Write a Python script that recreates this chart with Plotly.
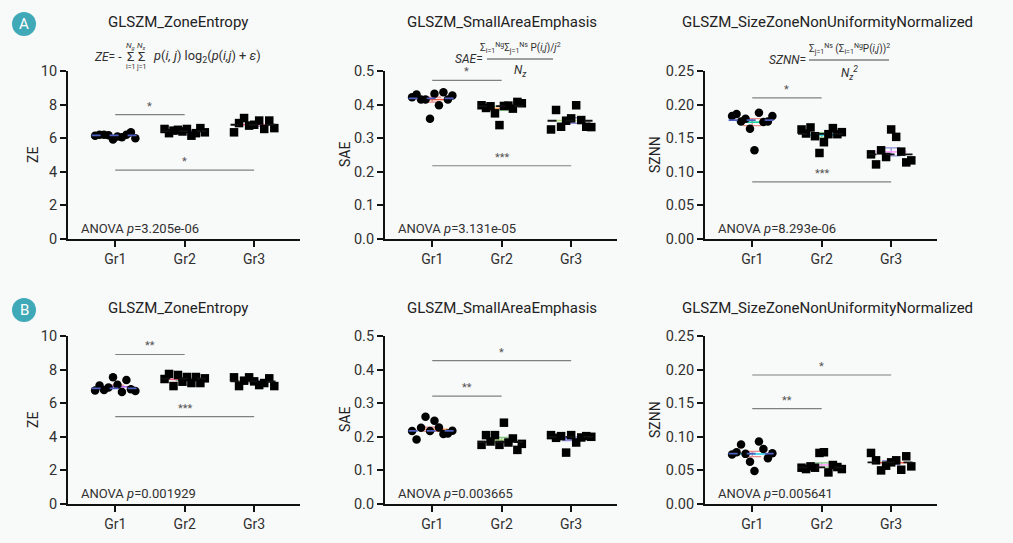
import numpy as np
import plotly.graph_objects as go

groups = ["Gr1", "Gr2", "Gr3"]

# ---- Row A values (listed left-to-right within each group) ----
a_ze_gr1 = [6.15, 6.20, 6.20, 6.18, 5.92, 6.10, 6.05, 6.20, 6.35, 6.00]
a_ze_gr2 = [6.55, 6.30, 6.45, 6.50, 6.40, 6.55, 6.15, 6.30, 6.60, 6.35]
a_ze_gr3 = [6.35, 6.90, 7.20, 6.75, 6.80, 7.05, 6.55, 7.05, 6.60]

a_sae_gr1 = [0.422, 0.430, 0.415, 0.415, 0.358, 0.432, 0.398, 0.437, 0.415, 0.427]
a_sae_gr2 = [0.398, 0.390, 0.395, 0.374, 0.339, 0.396, 0.397, 0.388, 0.408, 0.404]
a_sae_gr3 = [0.326, 0.384, 0.334, 0.352, 0.359, 0.398, 0.354, 0.334, 0.333]

a_sznn_gr1 = [0.183, 0.186, 0.175, 0.179, 0.164, 0.132, 0.188, 0.174, 0.175, 0.183]
a_sznn_gr2 = [0.163, 0.157, 0.166, 0.153, 0.128, 0.144, 0.156, 0.165, 0.156, 0.159]
a_sznn_gr3 = [0.126, 0.111, 0.132, 0.122, 0.163, 0.152, 0.130, 0.114, 0.117]

# ---- Row B values ----
b_ze_gr1 = [6.75, 7.06, 6.79, 6.94, 7.54, 7.10, 6.67, 7.38, 6.83, 6.73]
b_ze_gr2 = [7.44, 7.74, 7.02, 7.68, 7.28, 7.56, 7.20, 7.56, 7.20, 7.48]
b_ze_gr3 = [7.54, 7.02, 7.34, 7.54, 7.30, 7.08, 7.20, 7.48, 7.02]

b_sae_gr1 = [0.217, 0.192, 0.227, 0.260, 0.217, 0.248, 0.228, 0.208, 0.210, 0.218]
b_sae_gr2 = [0.176, 0.205, 0.186, 0.205, 0.176, 0.242, 0.183, 0.195, 0.161, 0.179]
b_sae_gr3 = [0.205, 0.197, 0.202, 0.153, 0.205, 0.183, 0.198, 0.202, 0.200]

b_sznn_gr1 = [0.0736, 0.077, 0.0885, 0.0746, 0.063, 0.049, 0.093, 0.082, 0.068, 0.0756]
b_sznn_gr2 = [0.054, 0.052, 0.056, 0.054, 0.076, 0.077, 0.047, 0.058, 0.055, 0.052]
b_sznn_gr3 = [0.076, 0.065, 0.050, 0.057, 0.062, 0.065, 0.051, 0.071, 0.056]

# significance comparisons: (group_from, group_to, height, label)
a_ze_sig = [(1, 2, 7.4, "*"), (1, 3, 4.1, "*")]
a_sae_sig = [(1, 2, 0.472, "*"), (1, 3, 0.218, "***")]
a_sznn_sig = [(1, 2, 0.21, "*"), (1, 3, 0.085, "***")]
b_ze_sig = [(1, 2, 8.9, "**"), (1, 3, 5.2, "***")]
b_sae_sig = [(1, 3, 0.427, "*"), (1, 2, 0.321, "**")]
b_sznn_sig = [(1, 3, 0.192, "*"), (1, 2, 0.142, "**")]

anova_a = ["3.205e-06", "3.131e-05", "8.293e-06"]
anova_b = ["0.001929", "0.003665", "0.005641"]

titles = ["GLSZM_ZoneEntropy", "GLSZM_SmallAreaEmphasis", "GLSZM_SizeZoneNonUniformityNormalized"]
ylabels = ["ZE", "SAE", "SZNN"]

W, H = 1013, 543
BG = "#f8f9f9"
TXT = "#303030"

panels = [
    dict(data=[a_ze_gr1, a_ze_gr2, a_ze_gr3], sig=a_ze_sig, p=anova_a[0], col=0, row=0,
         yr=[0, 10], dt=2, fmt="d"),
    dict(data=[a_sae_gr1, a_sae_gr2, a_sae_gr3], sig=a_sae_sig, p=anova_a[1], col=1, row=0,
         yr=[0, 0.5], dt=0.1, fmt=".1f"),
    dict(data=[a_sznn_gr1, a_sznn_gr2, a_sznn_gr3], sig=a_sznn_sig, p=anova_a[2], col=2, row=0,
         yr=[0, 0.25], dt=0.05, fmt=".2f"),
    dict(data=[b_ze_gr1, b_ze_gr2, b_ze_gr3], sig=b_ze_sig, p=anova_b[0], col=0, row=1,
         yr=[0, 10], dt=2, fmt="d"),
    dict(data=[b_sae_gr1, b_sae_gr2, b_sae_gr3], sig=b_sae_sig, p=anova_b[1], col=1, row=1,
         yr=[0, 0.5], dt=0.1, fmt=".1f"),
    dict(data=[b_sznn_gr1, b_sznn_gr2, b_sznn_gr3], sig=b_sznn_sig, p=anova_b[2], col=2, row=1,
         yr=[0, 0.25], dt=0.05, fmt=".2f"),
]

# layout geometry in pixels
x_left = [68, 385, 705]
x_width = 232
y_top = [71, 336]
y_bot = [239, 504]
ylab_x = [33, 345, 655]
title_x = [178, 502, 827]
title_y = [22, 308]

mean_cols = ["#e58c8c", "#86c786", "#8e8ed8"]
med_cols = ["#4e5fbf", "#111111", "#111111"]

fig = go.Figure()
layout = dict(width=W, height=H, margin=dict(l=0, r=0, t=0, b=0, autoexpand=False),
              paper_bgcolor=BG, plot_bgcolor=BG, showlegend=False,
              font=dict(family="Roboto", color=TXT, size=14))
annotations = []
shapes = []


def ann(**kw):
    base = dict(showarrow=False, xanchor="center", yanchor="middle")
    base.update(kw)
    annotations.append(base)


def px(xp, yp):
    return xp / W, 1 - yp / H


for k, pn in enumerate(panels):
    i = k + 1
    xa = "x" if i == 1 else f"x{i}"
    ya = "y" if i == 1 else f"y{i}"
    c, r = pn["col"], pn["row"]
    xd = [x_left[c] / W, (x_left[c] + x_width) / W]
    yd = [1 - y_bot[r] / H, 1 - y_top[r] / H]
    layout["xaxis" if i == 1 else f"xaxis{i}"] = dict(
        domain=xd, anchor=ya, range=[0.32, 3.66], tickvals=[1, 2, 3], ticktext=groups,
        showline=True, linecolor="#111", linewidth=2, ticks="outside", ticklen=6,
        tickwidth=1.5, tickcolor="#111", showgrid=False, zeroline=False, automargin=False,
        tickfont=dict(size=14, color=TXT))
    layout["yaxis" if i == 1 else f"yaxis{i}"] = dict(
        domain=yd, anchor=xa, range=pn["yr"], dtick=pn["dt"], tick0=0, tickformat=pn["fmt"],
        showline=True, linecolor="#111", linewidth=2, ticks="outside", ticklen=6,
        tickwidth=1.5, tickcolor="#111", showgrid=False, zeroline=False, automargin=False,
        tickfont=dict(size=14.5, color=TXT))

    for g, vals in enumerate(pn["data"]):
        gx = g + 1
        v = np.array(vals)
        n = len(v)
        offs = np.linspace(-0.29, 0.29, n)
        mean = v.mean()
        sem = v.std(ddof=1) / np.sqrt(n)
        med = float(np.median(v))
        fig.add_trace(go.Scatter(
            x=[gx], y=[mean], xaxis=xa, yaxis=ya, mode="markers",
            marker=dict(symbol="line-ew-open", size=22, line=dict(color=mean_cols[g], width=1.5)),
            error_y=dict(type="data", array=[sem], color=mean_cols[g], thickness=1.3, width=9),
            hoverinfo="skip"))
        fig.add_trace(go.Scatter(
            x=gx + offs, y=v, xaxis=xa, yaxis=ya, mode="markers",
            marker=dict(symbol="circle" if g == 0 else "square", size=8.5, color="#000"),
            hoverinfo="skip"))
        fig.add_trace(go.Scatter(
            x=[gx - 0.34, gx + 0.34], y=[med, med], xaxis=xa, yaxis=ya, mode="lines",
            line=dict(color=med_cols[g], width=1.8, dash="dash"), hoverinfo="skip"))

    for (g1, g2, h, lab) in pn["sig"]:
        fig.add_trace(go.Scatter(
            x=[g1, g2], y=[h, h], xaxis=xa, yaxis=ya, mode="lines",
            line=dict(color="#808080", width=1.2), hoverinfo="skip"))
        ann(x=(g1 + g2) / 2, y=h, xref=xa, yref=ya, text=lab, yanchor="bottom",
            font=dict(size=11, color="#555"))

    ann(x=0.047, y=0.06, xref=f"{xa} domain", yref=f"{ya} domain",
        text=f"ANOVA <i>p</i>={pn['p']}", xanchor="left", font=dict(size=13, color=TXT))
    ann(x=ylab_x[c] / W, y=1 - (y_top[r] + y_bot[r]) / 2 / H, xref="paper", yref="paper",
        text=ylabels[c], textangle=-90, font=dict(size=14, color="#222"))
    ann(x=title_x[c] / W, y=1 - title_y[r] / H, xref="paper", yref="paper",
        text=titles[c], font=dict(size=15, color="#222"))

# badges
for lab, cy in [("A", 24), ("B", 310)]:
    shapes.append(dict(type="circle", xref="paper", yref="paper",
                       x0=12 / W, x1=36 / W, y0=1 - (cy + 12) / H, y1=1 - (cy - 12) / H,
                       fillcolor="#3fa9b8", line=dict(width=0)))
    ann(x=24 / W, y=1 - cy / H, xref="paper", yref="paper", text=lab,
        font=dict(size=15, color="white"))

# formulas
fs = dict(size=12, color=TXT)
small = dict(size=7, color=TXT)
# ZE formula with stacked summation limits
x0, y0 = px(124, 57)
ann(x=x0, y=y0, xref="paper", yref="paper", xanchor="right", text="<i>ZE</i>= -", font=fs)
for sx, top, bot in [(130, "<i>N<sub>g</sub></i>", "i=1"), (141, "<i>N<sub>s</sub></i>", "j=1")]:
    a, b = px(sx, 57)
    ann(x=a, y=b, xref="paper", yref="paper", text="Σ", font=dict(size=13, color=TXT))
    a, b = px(sx, 46)
    ann(x=a, y=b, xref="paper", yref="paper", text=top, font=dict(size=8, color=TXT))
    a, b = px(sx, 67)
    ann(x=a, y=b, xref="paper", yref="paper", text=bot, font=small)
x0, y0 = px(151, 57)
ann(x=x0, y=y0, xref="paper", yref="paper", xanchor="left",
    text="<i>p</i>(<i>i, j</i>) log<sub>2</sub>(<i>p</i>(<i>i,j</i>) + <i>ε</i>)",
    font=dict(size=12.8, color=TXT))

# SAE formula
ann(x=485 / W, y=1 - 59 / H, xref="paper", yref="paper", xanchor="right",
    text="<i>SAE</i>=", font=fs)
ann(x=520 / W, y=1 - 57 / H, xref="paper", yref="paper", yanchor="bottom",
    text="Σ<sub>i=1</sub><sup>Ng</sup>Σ<sub>j=1</sub><sup>Ns</sup> P(<i>i,j</i>)/<i>j</i><sup>2</sup>",
    font=dict(size=10, color=TXT))
ann(x=520 / W, y=1 - 61 / H, xref="paper", yref="paper", yanchor="top",
    text="<i>N<sub>z</sub></i>", font=fs)
shapes.append(dict(type="line", xref="paper", yref="paper", x0=487 / W, x1=553 / W,
                   y0=1 - 59 / H, y1=1 - 59 / H, line=dict(color="#444", width=1)))

# SZNN formula
ann(x=808 / W, y=1 - 60 / H, xref="paper", yref="paper", xanchor="right",
    text="<i>SZNN</i>=", font=fs)
ann(x=849 / W, y=1 - 58 / H, xref="paper", yref="paper", yanchor="bottom",
    text="Σ<sub>j=1</sub><sup>Ns</sup> (Σ<sub>i=1</sub><sup>Ng</sup>P(<i>i,j</i>))<sup>2</sup>",
    font=dict(size=10, color=TXT))
ann(x=849 / W, y=1 - 62 / H, xref="paper", yref="paper", yanchor="top",
    text="<i>N<sub>z</sub><sup>2</sup></i>", font=fs)
shapes.append(dict(type="line", xref="paper", yref="paper", x0=809 / W, x1=889 / W,
                   y0=1 - 60 / H, y1=1 - 60 / H, line=dict(color="#444", width=1)))

layout["annotations"] = annotations
layout["shapes"] = shapes
fig.update_layout(**layout)
fig.write_html("out.html", config={"displayModeBar": False},
               post_script="document.body.style.margin='0';document.body.style.overflow='hidden';")
